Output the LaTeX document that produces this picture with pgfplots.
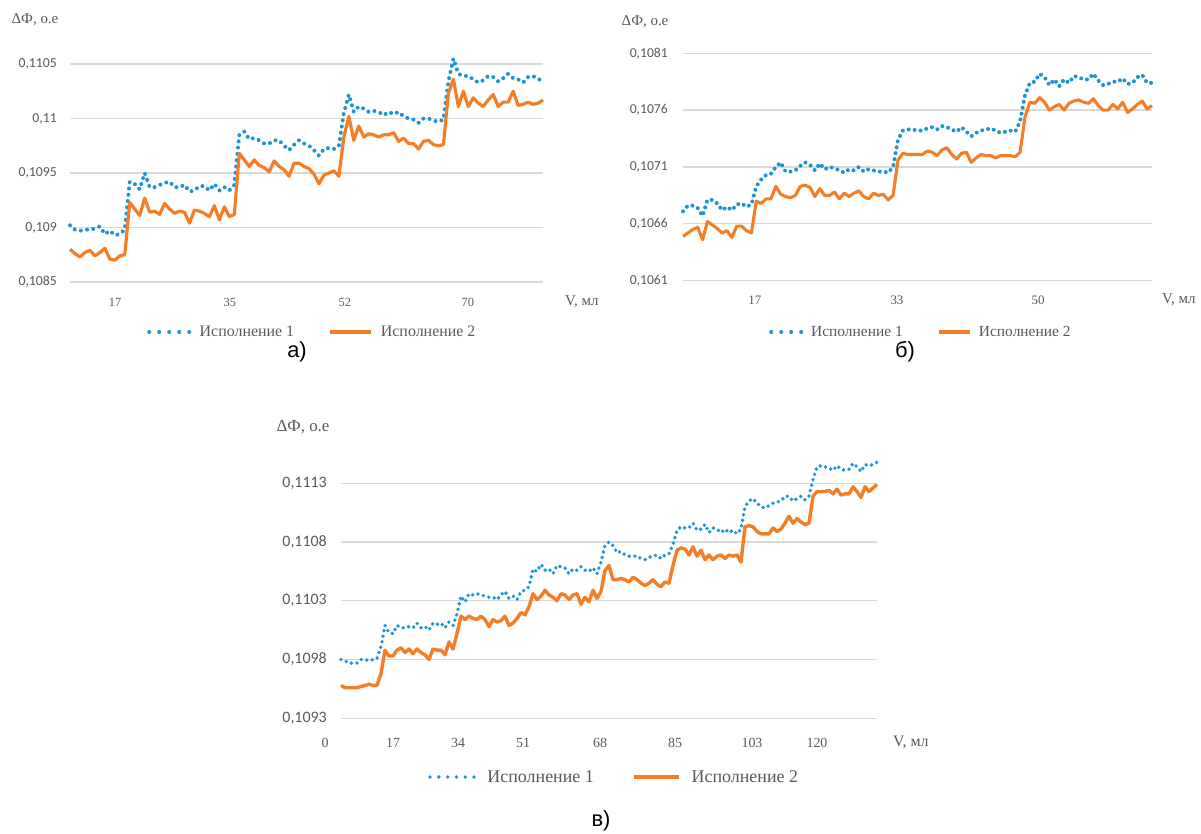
\documentclass[border=0pt]{standalone}
\usepackage{pgfplots}
\pgfplotsset{compat=1.18}
\usepackage{pgfplotstable}
\usepackage{fontspec}
\setmainfont{Liberation Serif}
\newfontfamily\calibri{Carlito}
\newfontfamily\arialf{Liberation Sans}

\definecolor{serA}{RGB}{28,148,212}
\definecolor{serB}{RGB}{244,125,40}
\definecolor{gridc}{RGB}{217,217,217}
\definecolor{txt}{RGB}{89,89,89}

\pgfplotsset{
  excel/.style={
    scale only axis, anchor=south west,
    axis lines=left, axis line style={draw=none},
    major tick length=0pt, tick style={draw=none},
    ymajorgrids, grid style={gridc, line width=1.3bp},
    scaled y ticks=false, scaled x ticks=false,
    clip=false,
    yticklabel style={text=txt, anchor=east, inner sep=0pt},
    xticklabel style={text=txt, anchor=north, inner sep=0pt},
    legend columns=2,
    legend style={draw=none, fill=none, inner sep=0pt, anchor=west, text=txt},
  },
}

\begin{document}

% panel a: columns b = Исполнение 1, o = Исполнение 2
\pgfplotstableread{
b o
0.10902 0.10880
0.10898 0.10876
0.10897 0.10873
0.10898 0.10877
0.10898 0.10879
0.10899 0.10874
0.10901 0.10877
0.10894 0.10881
0.10897 0.10871
0.10893 0.10870
0.10894 0.10874
0.10898 0.10875
0.10942 0.10923
0.10940 0.10917
0.10935 0.10911
0.10950 0.10927
0.10937 0.10914
0.10937 0.10915
0.10939 0.10912
0.10941 0.10922
0.10942 0.10917
0.10937 0.10913
0.10937 0.10915
0.10939 0.10914
0.10933 0.10904
0.10934 0.10916
0.10938 0.10915
0.10938 0.10913
0.10934 0.10910
0.10940 0.10920
0.10934 0.10907
0.10937 0.10919
0.10934 0.10910
0.10939 0.10912
0.10985 0.10968
0.10988 0.10962
0.10981 0.10956
0.10982 0.10962
0.10980 0.10957
0.10977 0.10955
0.10977 0.10951
0.10980 0.10961
0.10980 0.10956
0.10975 0.10953
0.10971 0.10947
0.10976 0.10959
0.10980 0.10959
0.10977 0.10956
0.10975 0.10954
0.10971 0.10949
0.10966 0.10940
0.10972 0.10948
0.10973 0.10950
0.10972 0.10952
0.10975 0.10947
0.11005 0.10983
0.11022 0.11002
0.11006 0.10980
0.11011 0.10993
0.11009 0.10983
0.11006 0.10986
0.11007 0.10985
0.11006 0.10983
0.11003 0.10985
0.11006 0.10985
0.11004 0.10987
0.11006 0.10979
0.11002 0.10982
0.11000 0.10977
0.10999 0.10977
0.10996 0.10972
0.11000 0.10979
0.11000 0.10980
0.10998 0.10976
0.10997 0.10975
0.10999 0.10976
0.11034 0.11023
0.11055 0.11036
0.11041 0.11011
0.11039 0.11025
0.11039 0.11011
0.11036 0.11019
0.11033 0.11014
0.11035 0.11011
0.11039 0.11017
0.11038 0.11022
0.11034 0.11011
0.11037 0.11015
0.11041 0.11015
0.11037 0.11025
0.11036 0.11012
0.11033 0.11013
0.11038 0.11015
0.11039 0.11013
0.11036 0.11014
0.11035 0.11017
}\dataA

% panel b
\pgfplotstableread{
b o
0.10671 0.10649
0.10676 0.10652
0.10676 0.10655
0.10674 0.10657
0.10667 0.10646
0.10681 0.10662
0.10681 0.10659
0.10678 0.10656
0.10672 0.10652
0.10675 0.10654
0.10672 0.10648
0.10677 0.10658
0.10678 0.10658
0.10675 0.10654
0.10677 0.10652
0.10693 0.10680
0.10699 0.10678
0.10703 0.10682
0.10704 0.10682
0.10710 0.10693
0.10714 0.10686
0.10706 0.10684
0.10706 0.10683
0.10707 0.10685
0.10711 0.10693
0.10714 0.10694
0.10712 0.10692
0.10707 0.10684
0.10713 0.10691
0.10708 0.10685
0.10710 0.10685
0.10709 0.10688
0.10707 0.10682
0.10705 0.10687
0.10708 0.10684
0.10707 0.10687
0.10710 0.10689
0.10706 0.10684
0.10708 0.10682
0.10707 0.10687
0.10706 0.10685
0.10706 0.10686
0.10705 0.10681
0.10710 0.10685
0.10734 0.10716
0.10742 0.10722
0.10743 0.10721
0.10743 0.10721
0.10742 0.10721
0.10742 0.10721
0.10744 0.10724
0.10745 0.10723
0.10743 0.10720
0.10746 0.10725
0.10745 0.10727
0.10743 0.10721
0.10741 0.10717
0.10745 0.10722
0.10741 0.10723
0.10737 0.10714
0.10740 0.10718
0.10742 0.10721
0.10743 0.10720
0.10744 0.10720
0.10742 0.10718
0.10740 0.10720
0.10741 0.10720
0.10742 0.10720
0.10741 0.10719
0.10750 0.10723
0.10773 0.10754
0.10784 0.10767
0.10785 0.10766
0.10792 0.10771
0.10789 0.10767
0.10782 0.10760
0.10787 0.10763
0.10781 0.10765
0.10787 0.10760
0.10784 0.10766
0.10790 0.10768
0.10789 0.10769
0.10787 0.10767
0.10787 0.10766
0.10792 0.10770
0.10786 0.10764
0.10782 0.10760
0.10783 0.10760
0.10785 0.10765
0.10785 0.10761
0.10788 0.10767
0.10783 0.10758
0.10784 0.10761
0.10789 0.10765
0.10791 0.10768
0.10784 0.10761
0.10784 0.10764
}\dataB

% panel c
\pgfplotstableread{
b o
0.10980 0.10958
0.10979 0.10956
0.10977 0.10956
0.10977 0.10956
0.10977 0.10956
0.10980 0.10957
0.10980 0.10958
0.10979 0.10959
0.10980 0.10958
0.10981 0.10958
0.10991 0.10968
0.11009 0.10988
0.11003 0.10983
0.11002 0.10983
0.11009 0.10988
0.11007 0.10990
0.11007 0.10986
0.11008 0.10989
0.11007 0.10985
0.11011 0.10989
0.11007 0.10986
0.11008 0.10984
0.11005 0.10980
0.11011 0.10989
0.11010 0.10988
0.11011 0.10988
0.11007 0.10984
0.11012 0.10995
0.11009 0.10989
0.11019 0.11002
0.11034 0.11017
0.11029 0.11014
0.11036 0.11017
0.11035 0.11015
0.11036 0.11014
0.11035 0.11017
0.11034 0.11014
0.11033 0.11008
0.11033 0.11014
0.11031 0.11012
0.11035 0.11013
0.11038 0.11017
0.11032 0.11009
0.11034 0.11011
0.11031 0.11015
0.11038 0.11020
0.11039 0.11018
0.11042 0.11025
0.11057 0.11036
0.11055 0.11031
0.11061 0.11034
0.11056 0.11039
0.11057 0.11035
0.11053 0.11033
0.11060 0.11030
0.11059 0.11036
0.11058 0.11035
0.11053 0.11031
0.11057 0.11035
0.11056 0.11036
0.11059 0.11027
0.11056 0.11033
0.11055 0.11029
0.11058 0.11039
0.11053 0.11032
0.11063 0.11038
0.11077 0.11056
0.11080 0.11060
0.11077 0.11048
0.11071 0.11048
0.11072 0.11049
0.11069 0.11048
0.11068 0.11046
0.11068 0.11050
0.11068 0.11048
0.11066 0.11045
0.11065 0.11043
0.11067 0.11045
0.11068 0.11048
0.11069 0.11044
0.11066 0.11042
0.11069 0.11046
0.11070 0.11045
0.11078 0.11060
0.11090 0.11073
0.11093 0.11075
0.11092 0.11074
0.11092 0.11069
0.11096 0.11076
0.11090 0.11068
0.11091 0.11073
0.11095 0.11065
0.11088 0.11069
0.11092 0.11065
0.11091 0.11068
0.11088 0.11069
0.11091 0.11066
0.11088 0.11069
0.11090 0.11068
0.11087 0.11069
0.11091 0.11063
0.11110 0.11093
0.11115 0.11094
0.11117 0.11093
0.11113 0.11089
0.11110 0.11087
0.11109 0.11087
0.11111 0.11087
0.11113 0.11092
0.11114 0.11089
0.11115 0.11091
0.11119 0.11096
0.11119 0.11102
0.11115 0.11096
0.11117 0.11100
0.11119 0.11097
0.11116 0.11095
0.11119 0.11096
0.11133 0.11119
0.11144 0.11123
0.11145 0.11123
0.11144 0.11123
0.11143 0.11124
0.11141 0.11121
0.11145 0.11125
0.11142 0.11120
0.11141 0.11121
0.11142 0.11121
0.11147 0.11127
0.11144 0.11123
0.11140 0.11118
0.11146 0.11127
0.11145 0.11123
0.11146 0.11126
0.11148 0.11129
}\dataC

\begin{tikzpicture}
\useasboundingbox (0,0) rectangle (1201bp,834bp);

% ---------- а) ----------
\begin{axis}[excel,
  at={(70bp,552bp)}, width=473bp, height=218bp,
  xmin=0, xmax=95, ymin=0.1085, ymax=0.1105,
  ytick={0.1085,0.109,0.1095,0.11,0.1105},
  yticklabels={{0,1085},{0,109},{0,1095},{0,11},{0,1105}},
  xtick={9.04,32.1,55.2,79.9}, xticklabels={17,35,52,70},
  yticklabel style={font=\calibri\fontsize{13.8}{14}\selectfont, xshift=-13bp},
  xticklabel style={font=\fontsize{12.5}{13}\selectfont, yshift=-16bp},
  legend style={at={(0.1628,-0.2294)}, font=\fontsize{16}{17}\selectfont,
    column sep=6bp, /tikz/every even column/.append style={column sep=32bp}},
  legend image code/.code={\draw[#1] (0bp,0bp) -- (40.5bp,0bp);},
]
\addplot[forget plot, serA, line width=4bp, line cap=round, dash pattern=on 0pt off 6.3bp]
  table[x expr=\coordindex, y=b]{\dataA};
\addplot[forget plot, serB, line width=3.2bp, line join=round]
  table[x expr=\coordindex, y=o]{\dataA};
\addlegendimage{serA, line width=4bp, line cap=round, dash pattern=on 0pt off 10bp}
\addlegendentry{Исполнение 1}
\addlegendimage{serB, line width=4.2bp}
\addlegendentry{Исполнение 2}
\end{axis}

% ---------- б) ----------
\begin{axis}[excel,
  at={(683bp,553.3bp)}, width=469bp, height=227.4bp,
  xmin=0, xmax=96, ymin=0.1061, ymax=0.1081,
  ytick={0.1061,0.1066,0.1071,0.1076,0.1081},
  yticklabels={{0,1061},{0,1066},{0,1071},{0,1076},{0,1081}},
  xtick={14.7,43.8,72.7}, xticklabels={17,33,50},
  yticklabel style={font=\calibri\fontsize{13.7}{14}\selectfont, xshift=-15bp},
  xticklabel style={font=\fontsize{13}{13}\selectfont, yshift=-15.2bp},
  legend style={at={(0.1834,-0.2256)}, font=\fontsize{15.5}{16}\selectfont,
    column sep=5bp, /tikz/every even column/.append style={column sep=32bp}},
  legend image code/.code={\draw[#1] (0bp,0bp) -- (31bp,0bp);},
]
\addplot[forget plot, serA, line width=4bp, line cap=round, dash pattern=on 0pt off 6bp]
  table[x expr=\coordindex, y=b]{\dataB};
\addplot[forget plot, serB, line width=3.1bp, line join=round]
  table[x expr=\coordindex, y=o]{\dataB};
\addlegendimage{serA, line width=4bp, line cap=round, dash pattern=on 0pt off 10bp}
\addlegendentry{Исполнение 1}
\addlegendimage{serB, line width=4.2bp}
\addlegendentry{Исполнение 2}
\end{axis}

% ---------- в) ----------
\begin{axis}[excel,
  at={(341bp,115.7bp)}, width=536bp, height=235bp,
  xmin=0, xmax=134, ymin=0.1093, ymax=0.1113,
  ytick={0.1093,0.1098,0.1103,0.1108,0.1113},
  yticklabels={{0,1093},{0,1098},{0,1103},{0,1108},{0,1113}},
  xtick={13,29.25,45.5,64.75,83.5,102.75,119},
  xticklabels={17,34,51,68,85,103,120},
  yticklabel style={font=\calibri\fontsize{16}{17}\selectfont, xshift=-14bp},
  xticklabel style={font=\fontsize{14}{14}\selectfont, yshift=-20bp},
  legend style={at={(0.1623,-0.2498)}, font=\fontsize{18}{19}\selectfont,
    column sep=9bp, /tikz/every even column/.append style={column sep=36bp}},
  legend image code/.code={\draw[#1] (0bp,0bp) -- (44.5bp,0bp);},
]
\addplot[forget plot, serA, line width=3.8bp, line cap=round, dash pattern=on 0pt off 5.6bp]
  table[x expr=\coordindex, y=b]{\dataC};
\addplot[forget plot, serB, line width=3.4bp, line join=round]
  table[x expr=\coordindex, y=o]{\dataC};
\addlegendimage{serA, line width=3.8bp, line cap=round, dash pattern=on 0pt off 8.8bp}
\addlegendentry{Исполнение 1}
\addlegendimage{serB, line width=4.4bp}
\addlegendentry{Исполнение 2}
\node[text=txt, font=\fontsize{14}{14}\selectfont, anchor=north, inner sep=0pt]
  at (axis cs:-4,0.1093) [yshift=-20bp] {0};
\end{axis}

% axis titles
\node[text=txt, font=\fontsize{15}{16}\selectfont] at (35bp,814bp) {ΔФ, о.е};
\node[text=txt, font=\fontsize{15}{16}\selectfont] at (645bp,812bp) {ΔФ, о.е};
\node[text=txt, font=\fontsize{17}{18}\selectfont] at (303bp,407bp) {ΔФ, о.е};
\node[text=txt, font=\fontsize{15}{16}\selectfont, anchor=west, inner sep=0pt] at (565bp,532bp) {V, мл};
\node[text=txt, font=\fontsize{15}{16}\selectfont, anchor=west, inner sep=0pt] at (1162bp,534bp) {V, мл};
\node[text=txt, font=\fontsize{16}{17}\selectfont, anchor=west, inner sep=0pt] at (893bp,91bp) {V, мл};

% panel captions
\node[font=\arialf\fontsize{22}{22}\selectfont] at (297bp,482bp) {а)};
\node[font=\arialf\fontsize{22}{22}\selectfont] at (905bp,482bp) {б)};
\node[font=\arialf\fontsize{22}{22}\selectfont] at (601bp,13bp) {в)};
\end{tikzpicture}
\end{document}
